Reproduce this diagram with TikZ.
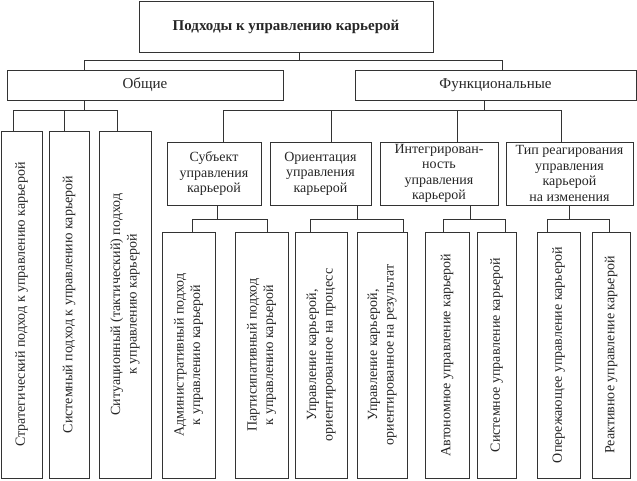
\documentclass[tikz,border=0pt]{standalone}
\usepackage{fontspec}
\setmainfont{Liberation Serif}
\usepackage{graphicx}
\tikzstyle{box}=[rectangle, draw=black!80, line width=.8pt, inner sep=0pt, align=center, text=black!85]
\tikzstyle{head}=[box, font=\fontsize{15}{18}\selectfont]
\tikzstyle{cat}=[box, font=\fontsize{14}{15.5}\selectfont, minimum height=63]
\tikzstyle{leaf}=[box, font=\fontsize{14}{16.5}\selectfont]
\tikzstyle{edge}=[draw, line width=.8pt, black!80]
\newcommand{\vtext}[1]{\rotatebox{90}{\begin{tabular}{@{}c@{}}#1\end{tabular}}}

\begin{document}
\begin{tikzpicture}[x=1pt, y=-1pt]
				\useasboundingbox (0,0) rectangle (637,481);

				\node[head, minimum width=294, minimum height=51] (root) at (286, 26.5) {\textbf{Подходы к управлению карьерой}};
				\node[head, minimum width=276, minimum height=30] (gen) at (145, 85) {Общие};
				\node[head, minimum width=281, minimum height=30] (fun) at (495.5, 85) {Функциональные};

				\draw[edge] ([xshift=13]root.south) -- ++(0,8) coordinate (b_0);
				\draw[edge] ([xshift=-61]gen.north) |- (b_0);
				\draw[edge] ([xshift=6.5]fun.north) |- (b_0);

				% общие подходы
				\node[leaf, minimum width=41, minimum height=347] (g_1) at (21.5, 304.5) {\vtext{Стратегический подход к управлению карьерой}};
				\node[leaf, minimum width=40, minimum height=347] (g_2) at (69, 304.5) {\vtext{Системный подход к управлению карьерой}};
				\node[leaf, minimum width=52, minimum height=347] (g_3) at (125, 304.5) {\vtext{Ситуационный (тактический) подход\\к управлению карьерой}};

				\draw[edge] ([xshift=-61]gen.south) -- ++(0,10) coordinate (b_1);
				\draw[edge] ([xshift=-8.5]g_1.north) |- (b_1);
				\draw[edge] ([xshift=-5]g_2.north) |- (b_1);
				\draw[edge] ([xshift=-8]g_3.north) |- (b_1);

				% функциональные подходы
				\node[cat, minimum width=94] (c_1) at (214, 173.5) {Субъект\\управления\\карьерой};
				\node[cat, minimum width=101] (c_2) at (320.5, 173.5) {Ориентация\\управления\\карьерой};
				\node[cat, minimum width=118] (c_3) at (439, 173.5) {Интегрирован-\\ность\\управления\\карьерой};
				\node[cat, minimum width=127] (c_4) at (569.5, 173.5) {Тип реагирования\\управления\\карьерой\\на изменения};

				\draw[edge] ([xshift=-11.5]fun.south) -- ++(0,10) coordinate (b_2);
				\draw[edge] ([xshift=9]c_1.north) |- (b_2);
				\draw[edge] ([xshift=10.5]c_2.north) |- (b_2);
				\draw[edge] ([xshift=18]c_3.north) |- (b_2);
				\draw[edge] ([xshift=-8.5]c_4.north) |- (b_2);

				\node[leaf, minimum width=53, minimum height=246] (l_1) at (188.5, 355) {\vtext{Административный подход\\к управлению карьерой}};
				\node[leaf, minimum width=53, minimum height=246] (l_2) at (261.5, 355) {\vtext{Партисипативный подход\\к управлению карьерой}};
				\node[leaf, minimum width=52, minimum height=246] (l_3) at (321, 355) {\vtext{Управление карьерой,\\ориентированное на процесс}};
				\node[leaf, minimum width=50, minimum height=246] (l_4) at (382, 355) {\vtext{Управление карьерой,\\ориентированное на результат}};
				\node[leaf, minimum width=44, minimum height=246] (l_5) at (447, 355) {\vtext{Автономное управление карьерой}};
				\node[leaf, minimum width=39, minimum height=246] (l_6) at (496.5, 355) {\vtext{Системное управление карьерой}};
				\node[leaf, minimum width=43, minimum height=246] (l_7) at (558.5, 355) {\vtext{Опережающее управление карьерой}};
				\node[leaf, minimum width=38, minimum height=246] (l_8) at (611, 355) {\vtext{Реактивное управление карьерой}};

				\draw[edge] ([xshift=3]c_1.south) -- ++(0,14) coordinate (b_3);
				\draw[edge] ([xshift=3.5]l_1.north) |- (b_3);
				\draw[edge] ([xshift=5.5]l_2.north) |- (b_3);

				\draw[edge] ([xshift=36.5]c_2.south) -- ++(0,14) coordinate (b_4);
				\draw[edge] ([xshift=-11]l_3.north) |- (b_4);
				\draw[edge] ([xshift=21]l_4.north) |- (b_4);

				\draw[edge] ([xshift=31]c_3.south) -- ++(0,14) coordinate (b_5);
				\draw[edge] ([xshift=-4]l_5.north) |- (b_5);
				\draw[edge] ([xshift=8.5]l_6.north) |- (b_5);

				\draw[edge] (c_4.south) -- ++(0,14) coordinate (b_6);
				\draw[edge] ([xshift=-11.5]l_7.north) |- (b_6);
				\draw[edge] ([xshift=-2]l_8.north) |- (b_6);
			\end{tikzpicture}
\end{document}
